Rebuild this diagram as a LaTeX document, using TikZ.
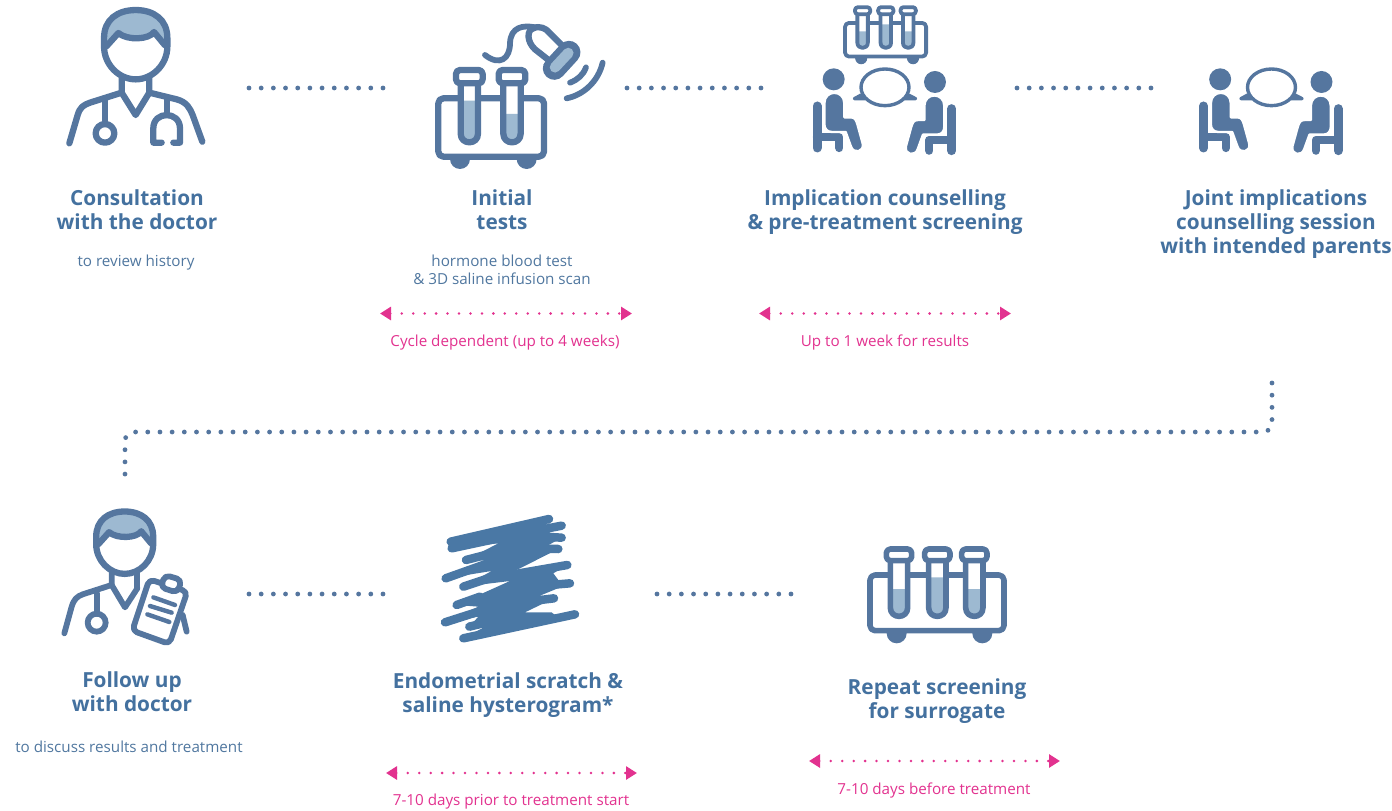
\documentclass[tikz,border=0pt]{standalone}
\usepackage{fontspec}
\setmainfont{Open Sans}
\usetikzlibrary{arrows.meta}
\definecolor{ico}{HTML}{55769F}
\definecolor{lite}{HTML}{9DB9D1}
\definecolor{scr}{HTML}{4A78A5}
\definecolor{headc}{HTML}{44719F}
\definecolor{bodyc}{HTML}{50779F}
\definecolor{pnk}{HTML}{E2328F}
\tikzset{
 ln/.style={draw=ico,line cap=round,line join=round},
 headtxt/.style={text=headc,align=center,font=\fontsize{20.8}{24}\selectfont\bfseries},
 bodytxt/.style={text=bodyc,align=center,font=\fontsize{15.2}{18}\selectfont},
 pinktxt/.style={text=pnk,align=center,font=\fontsize{15.2}{18}\selectfont},
 bluedots/.style={draw=ico,line width=4.8pt,line cap=round,dash pattern=on 0pt off 12.18pt},
 pinkdots/.style={draw=pnk,line width=2.8pt,line cap=round,dash pattern=on 0pt off 11.45pt,
   {Triangle[length=11pt,width=13pt]}-{Triangle[length=11pt,width=13pt]}},
}
% rack: x1 y1 x2 y2 wheel1 wheel2 wheelbase wheelr corner
\newcommand\drawrack[9]{%
 \fill[ico] (#5,#7) circle[radius=#8] (#6,#7) circle[radius=#8];
 \draw[ln,fill=white,rounded corners=#9pt] (#1,#2) rectangle (#3,#4);}
% tube: cx hw caphw captop capbot liquid bot corner
\newcommand\drawtube[8]{%
 \fill[white] ({#1-#2},#5) -- ({#1-#2},{#7-#2}) .. controls ({#1-#2},{#7+#2/3}) and ({#1+#2},{#7+#2/3}) .. ({#1+#2},{#7-#2}) -- ({#1+#2},#5) -- cycle;
 \fill[lite] ({#1-#2},#6) -- ({#1-#2},{#7-#2}) .. controls ({#1-#2},{#7+#2/3}) and ({#1+#2},{#7+#2/3}) .. ({#1+#2},{#7-#2}) -- ({#1+#2},#6) -- cycle;
 \draw[ln] ({#1-#2},#5) -- ({#1-#2},{#7-#2}) .. controls ({#1-#2},{#7+#2/3}) and ({#1+#2},{#7+#2/3}) .. ({#1+#2},{#7-#2}) -- ({#1+#2},#5);
 \draw[ln,fill=white,rounded corners=#8pt] ({#1-#3},#4) rectangle ({#1+#3},#5);}
% head at real position, scale factor
\newcommand\drawhead[3]{%
 \begin{scope}[shift={(#1,#2)},x=#3*0.3333pt,y=-#3*0.3333pt,line width=6.3pt]
 \path[fill=white] (-95,-20) .. controls (-95,-75) and (-55,-104) .. (0,-104) .. controls (55,-104) and (95,-75) .. (95,-20) -- (95,5) .. controls (95,60) and (50,104) .. (0,104) .. controls (-50,104) and (-95,60) .. (-95,5) -- cycle;
 \fill[lite] (-88,5) -- (-95,-20) .. controls (-95,-75) and (-55,-104) .. (0,-104) .. controls (55,-104) and (95,-75) .. (95,-20) -- (88,2) -- (55,-38) .. controls (40,-15) and (-25,-12) .. (-52,-35) -- cycle;
 \draw[ln] (-88,5) -- (-52,-35) .. controls (-25,-12) and (40,-15) .. (55,-38) -- (88,2);
 \draw[ln] (-95,-20) .. controls (-95,-75) and (-55,-104) .. (0,-104) .. controls (55,-104) and (95,-75) .. (95,-20) -- (95,5) .. controls (95,60) and (50,104) .. (0,104) .. controls (-50,104) and (-95,60) .. (-95,5) -- cycle;
 \end{scope}}
% one seated person
\newcommand\drawperson{%
 \fill[ico] (101,238) circle[radius=33];
 \draw[draw=ico,line width=9pt,line cap=round,line join=round] (51,318) -- (51,444);
 \draw[draw=ico,line width=8.3pt,line cap=round,line join=round] (51,412) -- (118,412) -- (118,444);
 \path[draw=white,line width=2.4pt,line join=round,fill=ico] (73,310) .. controls (73,268) and (133,268) .. (133,310) -- (133,352) -- (152,352) .. controls (165,352) and (168,360) .. (172,372) -- (188,430) .. controls (194,458) and (160,462) .. (153,440) -- (137,396) -- (95,396) .. controls (80,396) and (73,385) .. (73,372) -- cycle;}
\newcommand\drawcouple[2]{%
 \begin{scope}[shift={(#1,#2)},x=0.3333pt,y=-0.3333pt]
 \drawperson
 \begin{scope}[shift={(506,8)},x=-0.3333pt,y=-0.3333pt]\drawperson\end{scope}
 \draw[ln,fill=white,line width=3.2pt] (183,285) -- (163,296) -- (196,296) -- cycle (326,285) -- (347,296) -- (313,296) -- cycle;
 \draw[draw=ico,fill=white,line width=3.4pt] (255,262) ellipse[x radius=72,y radius=55];
 \end{scope}}
\begin{document}
\begin{tikzpicture}[x=1pt,y=-1pt]
\useasboundingbox (0,0) rectangle (1392,811);
% ---- doctor 1
\begin{scope}[shift={(40,0)},x=0.3333pt,y=-0.3333pt,line width=6.3pt]
 \draw[ln] (88,430) -- (113,345) .. controls (120,322) and (130,315) .. (150,308) -- (245,278) -- (245,235);
 \draw[ln] (328,235) -- (328,278) -- (410,298) .. controls (440,306) and (450,325) .. (458,345) -- (487,425);
 \draw[ln] (245,278) -- (287,345) -- (328,278);
 \draw[ln] (195,300) -- (195,372);
 \draw[ln] (195,400) circle[radius=28];
 \draw[ln] (380,298) -- (380,345);
 \draw[ln] (365,428) -- (340,428) -- (340,385) .. controls (340,332) and (420,332) .. (420,385) -- (420,428) -- (400,428);
\end{scope}
\drawhead{135.7}{44.7}{1}
% ---- tests
\begin{scope}[shift={(420,10)},x=0.3333pt,y=-0.3333pt,line width=6.3pt]
 \drawrack{55}{265}{372}{440}{120}{320}{447}{30}{5}
 \drawtube{148}{26}{40}{180}{220}{272}{397}{4}
 \drawtube{276}{26}{40}{180}{220}{312}{397}{4}
 \draw[ln,line width=5.8pt] (195,135) .. controls (240,170) and (270,145) .. (270,100) .. controls (272,50) and (310,45) .. (345,52);
 \draw[ln,fill=white,line width=6.3pt] (392,155) -- (345,118) .. controls (320,95) and (320,60) .. (340,55) .. controls (360,45) and (380,58) .. (385,65) -- (432,112);
 \draw[draw=ico,line cap=round,line width=23pt] (403,175) -- (447,127);
 \draw[draw=lite,line cap=round,line width=10.5pt] (405,172) -- (445,129);
 \draw[ln,line width=5.8pt] (450,218) .. controls (472,210) and (490,195) .. (498,172);
 \draw[ln,line width=5.8pt] (440,265) .. controls (490,255) and (535,215) .. (548,158);
\end{scope}
% ---- counselling
\begin{scope}[shift={(839,-1.3)},x=0.2017pt,y=-0.2017pt,line width=3.8pt]
 \drawrack{30}{120}{432}{287}{110}{367}{295}{30}{4}
 \drawtube{117}{26}{38}{42}{77}{162}{244}{3}
 \drawtube{232}{26}{38}{42}{77}{127}{244}{3}
 \drawtube{343}{26}{38}{42}{77}{162}{244}{3}
\end{scope}
\drawcouple{800}{0}
\drawcouple{1186.5}{0}
% ---- doctor 2
\begin{scope}[shift={(50,500)},x=0.3333pt,y=-0.3333pt,line width=5.8pt]
 \draw[ln] (43,400) -- (65,320) .. controls (72,298) and (80,290) .. (98,283) -- (185,255) -- (185,215);
 \draw[ln] (262,215) -- (262,265);
 \draw[ln] (185,255) -- (225,322) -- (262,265);
 \draw[ln] (140,280) -- (140,342);
 \draw[ln] (140,368) circle[radius=27];
 \draw[ln] (398,345) -- (410,395);
 \draw[ln,fill=white,rounded corners=5pt] (298,238) -- (412,275) -- (358,432) -- (247,392) -- cycle;
 \draw[ln,fill=white,rounded corners=5pt] (345,225) -- (395,240) -- (382,278) -- (332,262) -- cycle;
 \draw[ln,line width=4.4pt] (310,292) -- (375,315) (300,318) -- (365,338) (292,343) -- (358,366);
\end{scope}
\drawhead{124.7}{542.7}{0.9}
% ---- scribble
\begin{scope}[shift={(430,505)},x=0.3333pt,y=-0.3333pt]
 \fill[scr] (62,110) -- (357,42) -- (330,65) -- (395,62) -- (325,100) -- (395,98) -- (330,135) -- (385,132) -- (250,200) -- (412,180) -- (370,205) -- (385,225) -- (420,235) -- (330,272) -- (372,280) -- (285,322) -- (365,322) -- (372,328) -- (435,328) -- (100,400) -- (160,368) -- (118,365) -- (145,335) -- (45,352) -- (145,305) -- (80,300) -- (240,228) -- (100,245) -- (185,198) -- (47,220) -- (165,165) -- (108,165) -- (205,115) -- (65,130) -- cycle;
 \draw[draw=scr,line width=8.5pt,line cap=round] (62,110) -- (357,42) (65,130) -- (205,100) (200,100) -- (395,62) (250,90) -- (395,98) (108,165) -- (205,140) (240,130) -- (385,132) (47,220) -- (165,178) (100,245) -- (190,215) (250,208) -- (412,180) (300,245) -- (420,235) (80,300) -- (150,275) (290,290) -- (372,280) (45,352) -- (145,320) (118,365) -- (180,350) (100,400) -- (435,328);
\end{scope}
% ---- tubes 3
\begin{scope}[shift={(860,535)},x=0.3333pt,y=-0.3333pt,line width=5.6pt]
 \drawrack{30}{120}{432}{287}{110}{367}{295}{30}{5}
 \drawtube{117}{26}{38}{42}{77}{162}{244}{4}
 \drawtube{232}{26}{38}{42}{77}{127}{244}{4}
 \drawtube{343}{26}{38}{42}{77}{162}{244}{4}
\end{scope}
% ---- blue dotted connectors
\coordinate (b1a) at (249,88); \coordinate (b1b) at (384,88);
\coordinate (b2a) at (627,88); \coordinate (b2b) at (762,88);
\coordinate (b3a) at (1017,88); \coordinate (b3b) at (1153,88);
\coordinate (b4a) at (249,594); \coordinate (b4b) at (384,594);
\coordinate (b5a) at (657,594); \coordinate (b5b) at (792,594);
\coordinate (e1) at (1272,383); \coordinate (e2) at (1272,432); \coordinate (e3) at (125,432); \coordinate (e4) at (125,478);
\draw[bluedots] (b1a) -- (b1b);
\draw[bluedots] (b2a) -- (b2b);
\draw[bluedots] (b3a) -- (b3b);
\draw[bluedots] (b4a) -- (b4b);
\draw[bluedots] (b5a) -- (b5b);
\draw[bluedots,rounded corners=9pt] (e1) -- (e2) -- (e3) -- (e4);
% ---- pink arrows
\coordinate (p1a) at (380,313.5); \coordinate (p1b) at (632,313.5);
\coordinate (p2a) at (759,313.5); \coordinate (p2b) at (1011,313.5);
\coordinate (p3a) at (386,773); \coordinate (p3b) at (637,773);
\coordinate (p4a) at (809,761); \coordinate (p4b) at (1060,761);
\draw[pinkdots] (p1a) -- (p1b);
\draw[pinkdots] (p2a) -- (p2b);
\draw[pinkdots] (p3a) -- (p3b);
\draw[pinkdots] (p4a) -- (p4b);
% ---- text
\node[headtxt] (h1) at (137,209.5) {Consultation\\with the doctor};
\node[bodytxt] (s1) at (136,263) {to review history};
\node[headtxt] (h2) at (502,209.5) {Initial\\tests};
\node[bodytxt] (s2) at (502,270) {hormone blood test\\\&\ 3D saline infusion scan};
\node[pinktxt] (c1) at (505,343) {Cycle dependent (up to 4 weeks)};
\node[headtxt] (h3) at (885,212.5) {Implication counselling\\\&\ pre-treatment screening};
\node[pinktxt] (c2) at (885,343) {Up to 1 week for results};
\node[headtxt] (h4) at (1276,224.5) {Joint implications\\counselling session\\with intended parents};
\node[headtxt] (h5) at (132,691.5) {Follow up\\with doctor};
\node[bodytxt] (s5) at (129,747) {to discuss results and treatment};
\node[headtxt] (h6) at (508,695.5) {Endometrial scratch \&\\saline hysterogram*};
\node[pinktxt] (c3) at (511,802) {7-10 days prior to treatment start};
\node[headtxt] (h7) at (937,701.5) {Repeat screening\\for surrogate};
\node[pinktxt] (c4) at (934,791) {7-10 days before treatment};
\end{tikzpicture}
\end{document}
